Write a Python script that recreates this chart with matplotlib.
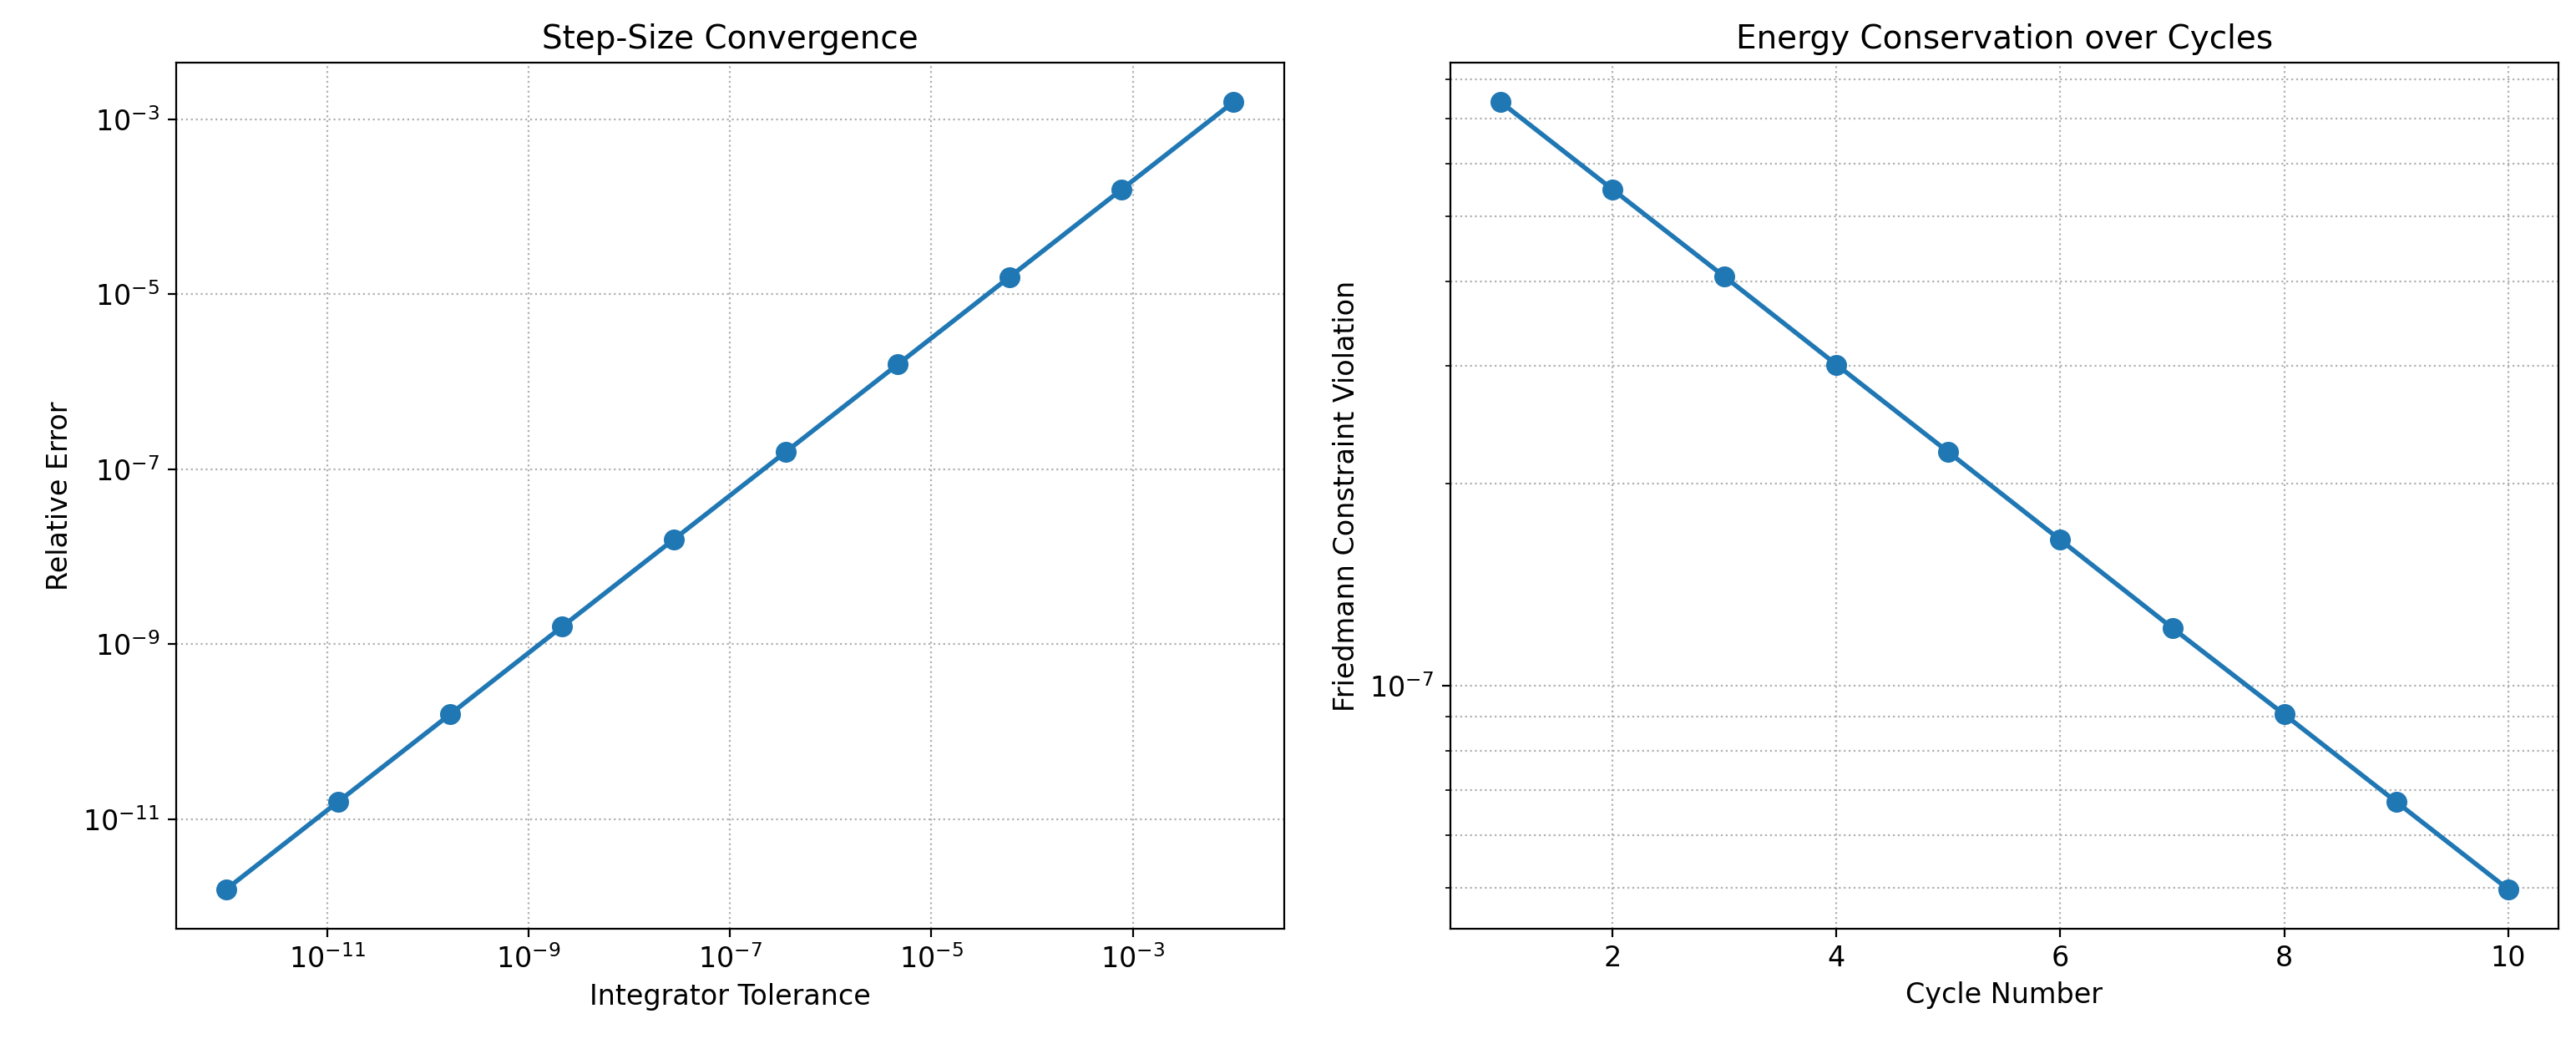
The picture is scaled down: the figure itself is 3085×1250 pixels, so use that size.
import matplotlib
matplotlib.use("Agg")
import matplotlib.pyplot as plt

# step-size convergence data
tolerances = [1e-12, 1.29e-11, 1.67e-10, 2.15e-9, 2.78e-8, 3.59e-7, 4.64e-6, 5.99e-5, 7.74e-4, 1e-2]
rel_errors = [1.58e-12, 1.58e-11, 1.58e-10, 1.58e-9, 1.58e-8, 1.58e-7, 1.58e-6, 1.58e-5, 1.58e-4, 1.58e-3]

# energy conservation over cycles
cycles = [1, 2, 3, 4, 5, 6, 7, 8, 9, 10]
violation = [7.41e-7, 5.49e-7, 4.07e-7, 3.01e-7, 2.23e-7, 1.65e-7, 1.22e-7, 9.07e-8, 6.72e-8, 4.98e-8]

plt.rcParams['xtick.labelsize'] = 12
plt.rcParams['ytick.labelsize'] = 12
plt.rcParams['axes.labelsize'] = 12
plt.rcParams['axes.titlesize'] = 14

fig, (ax1, ax2) = plt.subplots(1, 2, figsize=(15.425, 6.25), dpi=200)
ax1.set_position([0.0683, 0.1106, 0.4984 - 0.0683, 0.94 - 0.1106])
ax2.set_position([0.563, 0.1106, 0.9932 - 0.563, 0.94 - 0.1106])

ax1.loglog(tolerances, rel_errors, 'o-', lw=2, ms=8)
ax1.set_xlabel('Integrator Tolerance')
ax1.set_ylabel('Relative Error')
ax1.set_title('Step-Size Convergence')
ax1.grid(True, which='major', ls=':')

ax2.semilogy(cycles, violation, 'o-', lw=2, ms=8)
ax2.set_xlabel('Cycle Number')
ax2.set_ylabel('Friedmann Constraint Violation')
ax2.set_title('Energy Conservation over Cycles')
ax2.grid(True, which='both', ls=':')

fig.savefig('out.png', dpi=200)
